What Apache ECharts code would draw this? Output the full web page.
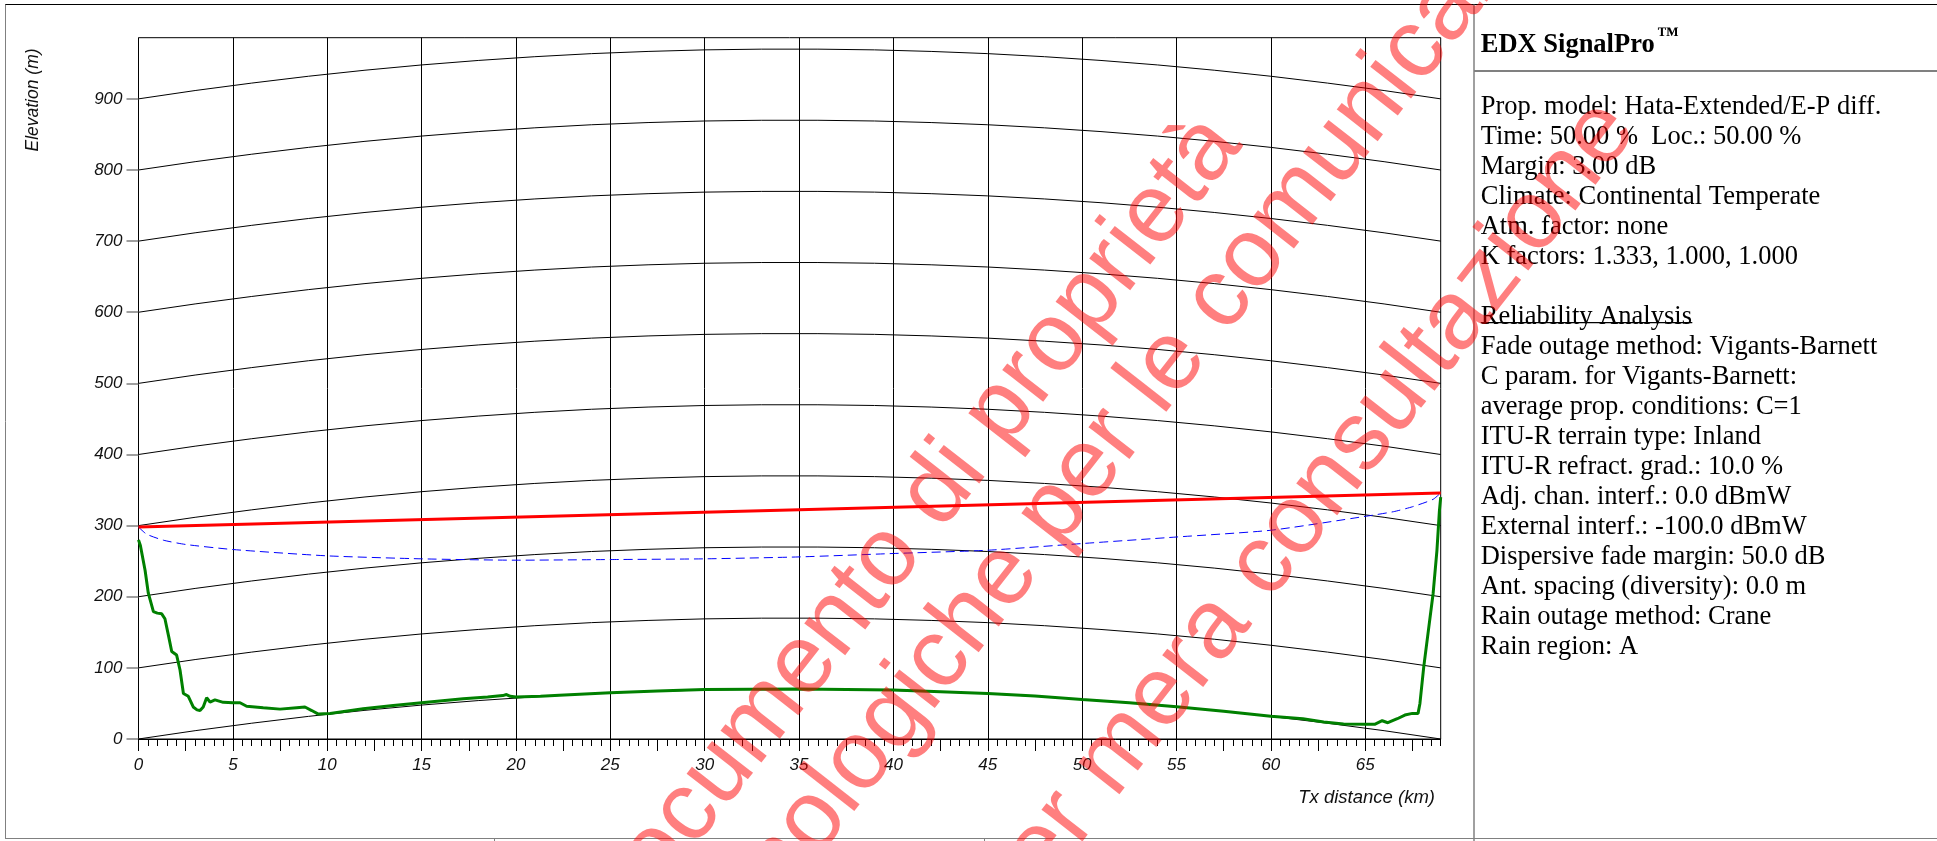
<!DOCTYPE html>
<html><head><meta charset="utf-8">
<script src="https://cdn.jsdelivr.net/npm/echarts@6/dist/echarts.min.js"></script>
<style>html,body{margin:0;padding:0;background:#fff;overflow:hidden}#c{width:1937px;height:841px}</style>
</head><body><div id="c"></div>
<script>
// ---------------- data ----------------
const terrainKm = [0, 0.1, 0.35, 0.52, 0.79, 1.0, 1.23, 1.4, 1.6, 1.76, 2.02, 2.2, 2.38, 2.64, 2.9, 3.1, 3.26, 3.43, 3.61, 3.79, 4.05, 4.49, 5.0, 5.38, 5.73, 6.61, 7.5, 8.38, 8.82, 9.18, 9.53, 10.15, 11.9, 13.5, 15.0, 17.2, 18.5, 19.3, 19.5, 19.7, 20.0, 21.3, 22.3, 25, 27.5, 30, 32.5, 35, 37.5, 40, 42.5, 45, 47.5, 50, 52.5, 55, 57.5, 60, 61.7, 62.8, 63.85, 65, 65.5, 65.9, 66.2, 66.7, 67.1, 67.5, 67.8, 67.9, 68.1, 68.35, 68.6, 68.8, 68.93, 69.0];
const terrainM  = [280, 272, 237, 205, 179, 177, 176, 169, 144, 123, 118, 97, 64, 60, 45, 41, 40, 45, 58, 52, 55, 51.5, 51, 51, 46, 44, 42, 44, 45, 40, 35, 36, 42.5, 47, 51, 56.6, 59, 61, 62.5, 60, 59, 60, 61.5, 65, 67.5, 69.5, 70, 70.2, 69.5, 68.8, 66.5, 64, 60.5, 55.7, 51, 45.4, 39, 32, 28.5, 24, 21, 20.6, 20.6, 25.7, 22.9, 28.5, 33.7, 36, 36, 50, 101, 153, 205, 265, 320, 340];
const losKm = [0, 69];
const losM  = [298, 346];
const fresnelKm = [0, 0.43, 1.32, 2.5, 5, 10, 15, 20, 25, 30, 35, 40, 45, 50, 55, 60, 65, 66.5, 67.5, 68.6, 69];
const fresnelM  = [298, 288, 279.5, 273.5, 266.4, 257.5, 253.3, 251.4, 252.3, 253.3, 256, 260.8, 265.4, 274.8, 284, 293.5, 313, 319.6, 326.5, 337, 346];
// earth-bulge of the curved reference lines (k = 4/3), read every 3 km
const bulgeKm = [0, 3, 6, 9, 12, 15, 18, 21, 24, 27, 30, 33, 36, 39, 42, 45, 48, 51, 54, 57, 60, 63, 66, 69];
const bulgeM  = [0, 11.7, 22.2, 31.8, 40.3, 47.7, 54, 59.3, 63.6, 66.7, 68.9, 69.9, 69.9, 68.9, 66.7, 63.6, 59.3, 54, 47.7, 40.3, 31.8, 22.2, 11.7, 0];
const gridLevels = [0, 100, 200, 300, 400, 500, 600, 700, 800, 900];
const xMajor = [0, 5, 10, 15, 20, 25, 30, 35, 40, 45, 50, 55, 60, 65];
const xMid = [2.5, 7.5, 12.5, 17.5, 22.5, 27.5, 32.5, 37.5, 42.5, 47.5, 52.5, 57.5, 62.5, 67.5];
const yMajor = [0, 100, 200, 300, 400, 500, 600, 700, 800, 900];
const xName = 'Tx distance (km)';
const yName = 'Elevation (m)';
const panelTitle = 'EDX SignalPro';
const panelLines = [
  'Prop. model: Hata-Extended/E-P diff.',
  'Time: 50.00 %  Loc.: 50.00 %',
  'Margin: 3.00 dB',
  'Climate: Continental Temperate',
  'Atm. factor: none',
  'K factors: 1.333, 1.000, 1.000',
  '',
  'Reliability Analysis',
  'Fade outage method: Vigants-Barnett',
  'C param. for Vigants-Barnett:',
  'average prop. conditions: C=1',
  'ITU-R terrain type: Inland',
  'ITU-R refract. grad.: 10.0 %',
  'Adj. chan. interf.: 0.0 dBmW',
  'External interf.: -100.0 dBmW',
  'Dispersive fade margin: 50.0 dB',
  'Ant. spacing (diversity): 0.0 m',
  'Rain outage method: Crane',
  'Rain region: A'
];
const watermarkLines = ['Documento di proprietà', 'tecnologiche per le comunicazioni', 'per mera consultazione'];

// ---------------- layout ----------------
const GX = 138.5, GY = 37.7, GW = 1302.2, GH = 701.3;
const SANS = '"Liberation Sans", Arial, sans-serif';
const SERIF = '"Liberation Serif", "Times New Roman", serif';
const wmAnchors = [[595, 931.3], [681.4, 988.5], [989.9, 915.9]];
const wmAngle = 52 * Math.PI / 180;
const wmSize = 98;

const chart = echarts.init(document.getElementById('c'), null, {renderer: 'canvas', width: 1937, height: 841});

const pairs = (xs, ys) => xs.map((x, i) => [x, ys[i]]);
const series = [];
gridLevels.forEach(L => {
  series.push({type: 'line', data: bulgeKm.map((k, i) => [k, L + bulgeM[i]]), symbol: 'none', silent: true, z: 2,
    lineStyle: {color: '#000', width: 1}, animation: false});
});
series.push({type: 'line', name: 'terrain', data: pairs(terrainKm, terrainM), symbol: 'none', z: 3,
  lineStyle: {color: '#008000', width: 3}, animation: false});
series.push({type: 'line', name: 'fresnel', data: pairs(fresnelKm, fresnelM), symbol: 'none', z: 4, smooth: 0.2,
  lineStyle: {color: '#0000ff', width: 1, type: [9, 5]}, animation: false});
series.push({type: 'line', name: 'los', data: pairs(losKm, losM), symbol: 'none', z: 5,
  lineStyle: {color: '#ff0000', width: 3}, animation: false});

const labelStyle = {fontSize: 17, fontStyle: 'italic', fontFamily: SANS, color: '#111'};

const graphic = [];
const line = (x1, y1, x2, y2, stroke, w) => graphic.push({type: 'line', silent: true, z: 50,
  shape: {x1, y1, x2, y2}, style: {stroke, lineWidth: w || 1}});
// page frame
line(5, 4.5, 1937, 4.5, '#000', 1);
line(5.5, 4.5, 5.5, 838.5, '#808080', 1);
line(5, 838.5, 1937, 838.5, '#808080', 1);
line(1474, 4.5, 1474, 841, '#808080', 1.5);
line(1474, 71, 1937, 71, '#808080', 2);
line(494.5, 838.5, 494.5, 841, '#808080', 1);
line(984.5, 838.5, 984.5, 841, '#808080', 1);

// axis names
graphic.push({type: 'text', x: 33, y: 100, rotation: Math.PI / 2, z: 50, silent: true,
  style: {text: yName, font: 'italic 17.5px ' + SANS, fill: '#111', textAlign: 'center', textVerticalAlign: 'middle'}});
graphic.push({type: 'text', x: 1435, y: 798, z: 50, silent: true,
  style: {text: xName, font: 'italic 18.5px ' + SANS, fill: '#111', textAlign: 'right', textVerticalAlign: 'middle'}});

// side panel
const PX = 1480.7, FS = 26.5, SHIFT = 6;
graphic.push({type: 'text', x: PX, y: 46.7 - 0.34 * FS + 7, z: 50, silent: true,
  style: {text: panelTitle, font: 'bold ' + FS + 'px ' + SERIF, fill: '#000', textAlign: 'left', textVerticalAlign: 'middle'}});
graphic.push({type: 'text', x: 1657, y: 37.5 - 0.34 * 22 + 6, z: 50, silent: true,
  style: {text: '\u2122', font: 'bold 22px ' + SERIF, fill: '#000', textAlign: 'left', textVerticalAlign: 'middle'}});
panelLines.forEach((t, i) => {
  if (!t) return;
  const base = 110 + 30 * i;
  graphic.push({type: 'text', x: PX, y: base - 0.34 * FS + SHIFT, z: 50, silent: true,
    style: {text: t, font: FS + 'px ' + SERIF, fill: '#000', textAlign: 'left', textVerticalAlign: 'middle'}});
  if (t === 'Reliability Analysis') line(PX, base + 2.7, 1692.3, base + 2.7, '#000', 1.3);
});

// watermark
watermarkLines.forEach((t, i) => {
  graphic.push({type: 'text', x: wmAnchors[i][0], y: wmAnchors[i][1], rotation: wmAngle, z: 100, silent: true,
    style: {text: t, font: wmSize + 'px ' + SANS, fill: 'rgba(255,0,0,0.5)', textAlign: 'left', textVerticalAlign: 'middle'}});
});

chart.setOption({
  animation: false,
  backgroundColor: '#fff',
  grid: {left: GX, top: GY, width: GW, height: GH, show: true, borderColor: '#000', borderWidth: 1, backgroundColor: 'transparent'},
  xAxis: [
    {type: 'value', min: 0, max: 69, interval: 5, position: 'bottom',
      axisLine: {show: true, onZero: false, lineStyle: {color: '#000', width: 1}},
      axisTick: {show: true, length: 12, customValues: xMajor, lineStyle: {color: '#000', width: 1}},
      axisLabel: {show: true, customValues: xMajor, margin: 18, formatter: v => (xMajor.indexOf(v) >= 0 ? String(v) : ''), ...labelStyle},
      splitLine: {show: true, lineStyle: {color: '#000', width: 1}}},
    {type: 'value', min: 0, max: 69, interval: 0.5, position: 'bottom',
      axisLine: {show: false, onZero: false}, axisTick: {show: true, length: 7, lineStyle: {color: '#000', width: 1}},
      axisLabel: {show: false}, splitLine: {show: false}},
    {type: 'value', min: 0, max: 69, interval: 2.5, position: 'bottom',
      axisLine: {show: false, onZero: false}, axisTick: {show: true, length: 12, customValues: xMid, lineStyle: {color: '#000', width: 1}},
      axisLabel: {show: false}, splitLine: {show: false}}
  ],
  yAxis: {type: 'value', min: 0, max: 986, interval: 100,
    axisLine: {show: false},
    axisTick: {show: true, length: 12, customValues: yMajor, lineStyle: {color: '#808080', width: 1.5}},
    axisLabel: {show: true, customValues: yMajor, margin: 16, formatter: v => (yMajor.indexOf(v) >= 0 ? String(v) : ''), ...labelStyle},
    splitLine: {show: false}},
  series: series,
  graphic: graphic
});
</script>
</body></html>
